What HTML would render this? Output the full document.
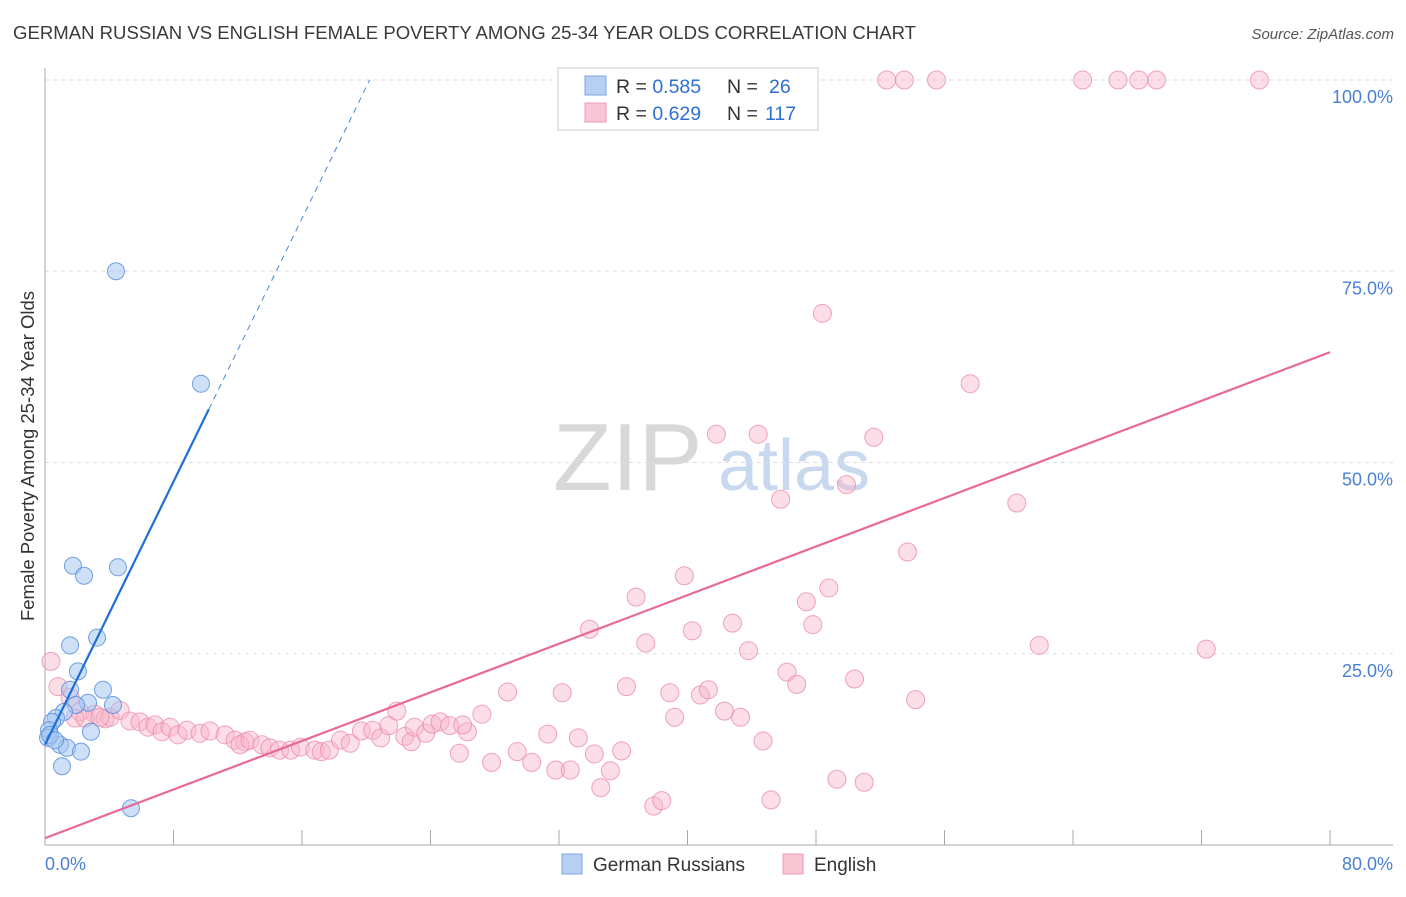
<!DOCTYPE html>
<html><head><meta charset="utf-8"><style>
body{margin:0;background:#fff;font-family:"Liberation Sans",sans-serif;}
svg text{font-family:"Liberation Sans",sans-serif;}
</style></head><body>
<svg id="chart" width="1406" height="892" viewBox="0 0 1406 892">
<text x="13" y="39" font-size="18.5" fill="#3a3a3a" textLength="903" lengthAdjust="spacingAndGlyphs">GERMAN RUSSIAN VS ENGLISH FEMALE POVERTY AMONG 25-34 YEAR OLDS CORRELATION CHART</text>
<text x="1394" y="39" font-size="15" fill="#555" font-style="italic" text-anchor="end">Source: ZipAtlas.com</text>
<g>
<text x="553" y="490" font-size="96" fill="#d8d8d8" font-family="Liberation Serif, serif">ZIP</text>
<text x="718" y="490" font-size="72" fill="#c8d8ee">atlas</text>
</g>
<g id="grid"></g>
<g id="axes"></g>
<g id="marks"></g>
<g>
<rect x="558" y="68" width="260" height="62" fill="#fff" stroke="#ccc"/>
<rect x="585" y="76" width="21" height="19" fill="#b5d0f3" stroke="#7aa6e0"/>
<rect x="585" y="103" width="21" height="19" fill="#f9c6d5" stroke="#ee9ab4"/>
<text x="616" y="93" font-size="19.5" fill="#333">R = <tspan fill="#2f6fd0">0.585</tspan></text>
<text x="727" y="93" font-size="19.5" fill="#333">N =</text><text x="769" y="93" font-size="19.5" fill="#2f6fd0">26</text>
<text x="616" y="120" font-size="19.5" fill="#333">R = <tspan fill="#2f6fd0">0.629</tspan></text>
<text x="727" y="120" font-size="19.5" fill="#333">N =</text><text x="765" y="120" font-size="19.5" fill="#2f6fd0">117</text>
</g>
<g>
<rect x="562" y="854" width="20" height="20" fill="#b5d0f3" stroke="#7aa6e0"/>
<text x="593" y="871" font-size="19" fill="#333">German Russians</text>
<rect x="783" y="854" width="20" height="20" fill="#f9c6d5" stroke="#ee9ab4"/>
<text x="814" y="871" font-size="19" fill="#333">English</text>
</g>
<text transform="translate(34,456) rotate(-90)" font-size="18.5" fill="#333" text-anchor="middle">Female Poverty Among 25-34 Year Olds</text>
</svg>
<script>
const blueX=[4.42,9.71,1.74,2.43,4.54,3.24,1.56,2.05,1.56,3.61,2.68,4.23,1.93,1.18,0.68,0.44,0.25,0.19,0.93,1.37,2.86,2.24,1.06,5.35,0.31,0.62];
const blueY=[75.0,60.3,36.5,35.2,36.3,27.1,26.1,22.7,20.3,20.3,18.6,18.3,18.3,17.4,16.6,16.1,15.0,14.0,13.1,12.7,14.8,12.2,10.3,4.8,14.4,13.7];
const pinkX=[52.4,53.5,55.5,64.6,66.8,68.1,69.2,75.6,48.4,57.6,41.8,44.4,51.6,49.9,45.8,60.5,53.7,39.8,48.8,36.8,47.4,33.9,42.8,40.3,47.8,37.4,43.8,61.9,72.3,46.2,46.8,50.4,36.2,38.9,40.8,41.3,54.2,28.8,32.2,42.3,43.3,39.2,27.2,21.9,44.7,26.3,31.3,33.2,29.4,35.9,34.2,25.8,27.8,30.3,31.8,32.7,35.2,34.6,49.3,51.0,45.2,37.9,38.4,
0.37,0.81,1.56,2.18,1.87,3.11,3.74,4.05,2.49,3.42,4.67,5.29,5.91,6.41,6.85,7.28,7.78,8.28,8.84,9.65,10.27,11.21,11.83,12.45,12.14,12.76,13.51,14.0,14.6,15.3,15.9,16.8,17.2,17.7,18.4,19.0,19.7,20.4,20.9,21.4,22.4,22.8,23.0,23.7,24.1,24.6,25.2,26.0];
const pinkY=[100,100,100,100,100,100,100,100,69.5,60.3,53.7,53.7,53.3,47.1,45.2,44.7,38.3,35.2,33.6,32.4,31.8,28.2,29.0,28.0,28.8,26.4,25.4,26.1,25.6,22.6,21.0,21.7,20.7,19.9,19.6,20.3,19.0,20.0,19.9,17.5,16.7,16.7,17.1,17.5,13.6,14.8,14.5,14.0,12.2,12.3,11.9,12.0,10.8,10.8,9.8,9.8,9.7,7.5,8.6,8.2,5.9,5.1,5.8,
24.0,20.7,19.3,17.4,16.6,17.1,16.5,16.7,16.6,16.7,17.6,16.2,16.1,15.4,15.7,14.8,15.4,14.4,15.0,14.6,14.9,14.4,13.7,13.5,13.1,13.7,13.1,12.7,12.4,12.4,12.8,12.4,12.2,12.4,13.7,13.3,14.9,15.0,14.0,15.6,14.2,13.5,15.4,14.6,15.8,16.1,15.6,15.7];
const yTicks=[25,50,75,100];
const yTickLabels=["25.0%","50.0%","75.0%","100.0%"];
const xTicks=[8,16,24,32,40,48,56,64,72,80];
const blueLine={intercept:13.1,slope:4.30};
const pinkLine={intercept:0.9,slope:0.794};

const NS="http://www.w3.org/2000/svg";
const X=v=>45+v/80*1285;
const Y=v=>845-v/100*765;
function mk(tag,attrs,parent){const e=document.createElementNS(NS,tag);for(const k in attrs)e.setAttribute(k,attrs[k]);parent.appendChild(e);return e;}
const grid=document.getElementById('grid'),axes=document.getElementById('axes'),marks=document.getElementById('marks');
yTicks.forEach((t,i)=>{
  const l=mk('line',{x1:45,x2:1393,y1:Y(t),y2:Y(t),stroke:'#ddd','stroke-dasharray':'4,4'},grid);
  
  
  const tx=mk('text',{x:1393,y:Y(t)+23,'font-size':18,fill:'#4a80d4','text-anchor':'end'},axes);
  tx.textContent=yTickLabels[i];
  
  
});
const ya=mk('line',{x1:45,x2:45,y1:68,y2:845,stroke:'#aaa'},axes);


const xa=mk('line',{x1:45,x2:1393,y1:845,y2:845,stroke:'#aaa'},axes);


xTicks.forEach(t=>{
  const l=mk('line',{x1:X(t),x2:X(t),y1:830,y2:845,stroke:'#aaa'},axes);
  
  
});
const x0=mk('text',{x:45,y:870,'font-size':18,fill:'#4a80d4'},axes);x0.textContent='0.0%';


const x1=mk('text',{x:1393,y:870,'font-size':18,fill:'#4a80d4','text-anchor':'end'},axes);x1.textContent='80.0%';



pinkX.forEach((v,i)=>{
  const c=mk('circle',{cx:X(v),cy:Y(pinkY[i]),r:9,fill:'rgba(248,182,202,0.45)',stroke:'rgba(236,140,172,0.8)','stroke-width':1},marks);
  
  
});
blueX.forEach((v,i)=>{
  const c=mk('circle',{cx:X(v),cy:Y(blueY[i]),r:8.5,fill:'rgba(164,198,242,0.55)',stroke:'rgba(90,145,220,0.85)','stroke-width':1},marks);
  
  
});
const pl=mk('line',{x1:X(0),y1:Y(pinkLine.intercept),x2:X(80),y2:Y(pinkLine.intercept+pinkLine.slope*80),stroke:'#e8689a','stroke-width':2.2},marks);


const bEnd=10.2, bMax=(100-blueLine.intercept)/blueLine.slope;
const bl=mk('line',{x1:X(0),y1:Y(blueLine.intercept),x2:X(bEnd),y2:Y(blueLine.intercept+blueLine.slope*bEnd),stroke:'#1f6fd6','stroke-width':2.2},marks);


const bd=mk('line',{x1:X(bEnd),y1:Y(blueLine.intercept+blueLine.slope*bEnd),x2:X(bMax),y2:Y(100),stroke:'#4a86d8','stroke-width':1,'stroke-dasharray':'6,5'},marks);


</script>
</body></html>
